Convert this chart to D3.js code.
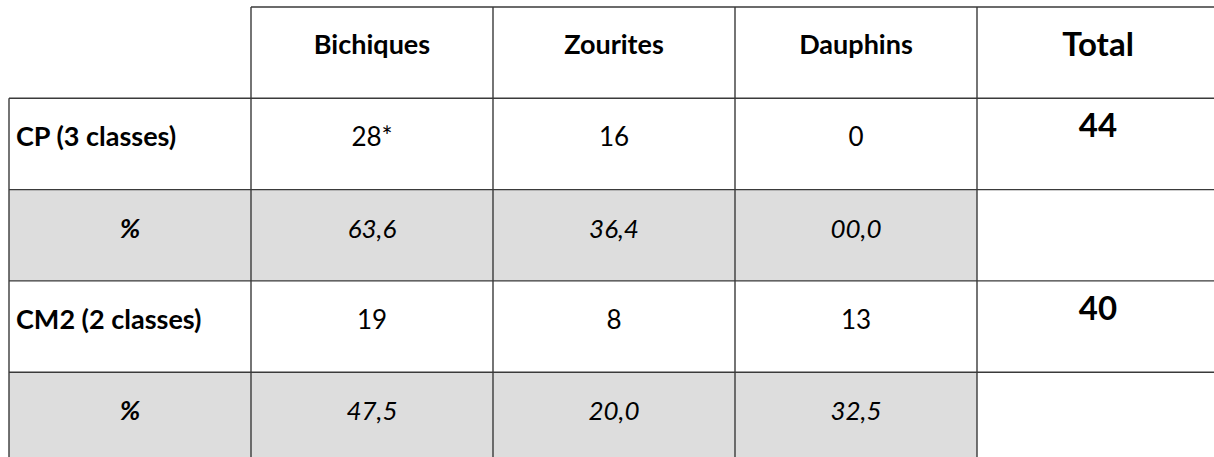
<!DOCTYPE html>
<html>
<head>
<meta charset="utf-8">
<script src="https://cdn.jsdelivr.net/npm/d3@7"></script>
<style>
    body { margin: 0; background: #fff; }
    svg { display: block; font-family: Lato, "Open Sans", sans-serif; }
</style>
</head>
<body>
<div id="chart"></div>
<script>
(function () {
    "use strict";

    // table content
    var teams = ["Bichiques", "Zourites", "Dauphins"];
    var levels = ["CP (3 classes)", "CM2 (2 classes)"];
    var counts = [[28, 16, 0], [19, 8, 13]];
    var countNotes = [["*", "", ""], ["", "", ""]];
    var percents = [["63,6", "36,4", "00,0"], ["47,5", "20,0", "32,5"]];
    var totals = [44, 40];
    var totalLabel = "Total";
    var percentLabel = "%";

    var w = 1214;
    var h = 457;

    var svg = d3.select("#chart").append("svg")
        .attr("width", w)
        .attr("height", h);

    var colKeys = ["label"].concat(teams).concat(["total"]);
    var rowKeys = ["head"];
    levels.forEach(function (l, i) { rowKeys.push("n" + i); rowKeys.push("p" + i); });

    var x = d3.scaleBand().domain(colKeys).range([9, 9 + 242 * 5]);
    var y = d3.scaleBand().domain(rowKeys).range([7, 7 + 91.3 * 5]);

    // grey percent rows (label + team columns)
    levels.forEach(function (l, i) {
        svg.append("rect")
            .attr("x", x("label"))
            .attr("y", y("p" + i))
            .attr("width", x("total") - x("label"))
            .attr("height", y.bandwidth())
            .attr("fill", "#dddddd");
    });

    var lineColor = "#3a3a3a";
    var grid = svg.append("g").attr("stroke", lineColor).attr("stroke-width", 1.4);

    // horizontal lines
    rowKeys.forEach(function (k) {
        grid.append("line")
            .attr("x1", k == "head" ? x(teams[0]) : x("label"))
            .attr("x2", w)
            .attr("y1", y(k))
            .attr("y2", y(k));
    });

    // vertical lines
    colKeys.forEach(function (k) {
        grid.append("line")
            .attr("x1", x(k)).attr("x2", x(k))
            .attr("y1", k == "label" ? y("n0") : y("head"))
            .attr("y2", h + 10);
    });

    function cx(k) { return x(k) + x.bandwidth() / 2; }
    var fs = "27px";
    var numFs = "26px";
    var bigFs = "33px";
    var baseOff = 48;

    // header
    teams.forEach(function (t) {
        svg.append("text")
            .attr("x", cx(t))
            .attr("y", y("head") + 47)
            .attr("text-anchor", "middle")
            .style("font-size", fs)
            .style("font-weight", "bold")
            .text(t);
    });
    svg.append("text")
        .attr("x", cx("total"))
        .attr("y", y("head") + 49)
        .attr("text-anchor", "middle")
        .style("font-size", bigFs)
        .style("font-weight", "bold")
        .text(totalLabel);

    levels.forEach(function (l, i) {
        var ny = y("n" + i) + baseOff;
        var py = y("p" + i) + baseOff;

        svg.append("text")
            .attr("x", x("label") + 7)
            .attr("y", ny)
            .style("font-size", fs)
            .style("font-weight", "bold")
            .text(l);

        svg.append("text")
            .attr("x", cx("label"))
            .attr("y", py)
            .attr("text-anchor", "middle")
            .style("font-size", fs)
            .style("font-weight", "bold")
            .style("font-style", "italic")
            .text(percentLabel);

        teams.forEach(function (t, j) {
            svg.append("text")
                .attr("x", cx(t))
                .attr("y", ny)
                .attr("text-anchor", "middle")
                .style("font-size", numFs)
                .text(counts[i][j] + countNotes[i][j]);

            svg.append("text")
                .attr("x", cx(t))
                .attr("y", py)
                .attr("text-anchor", "middle")
                .style("font-size", numFs)
                .style("font-style", "italic")
                .text(percents[i][j]);
        });

        svg.append("text")
            .attr("x", cx("total"))
            .attr("y", y("n" + i) + 39)
            .attr("text-anchor", "middle")
            .style("font-size", bigFs)
            .style("font-weight", "bold")
            .text(totals[i]);
    });
})();
</script>
</body>
</html>
